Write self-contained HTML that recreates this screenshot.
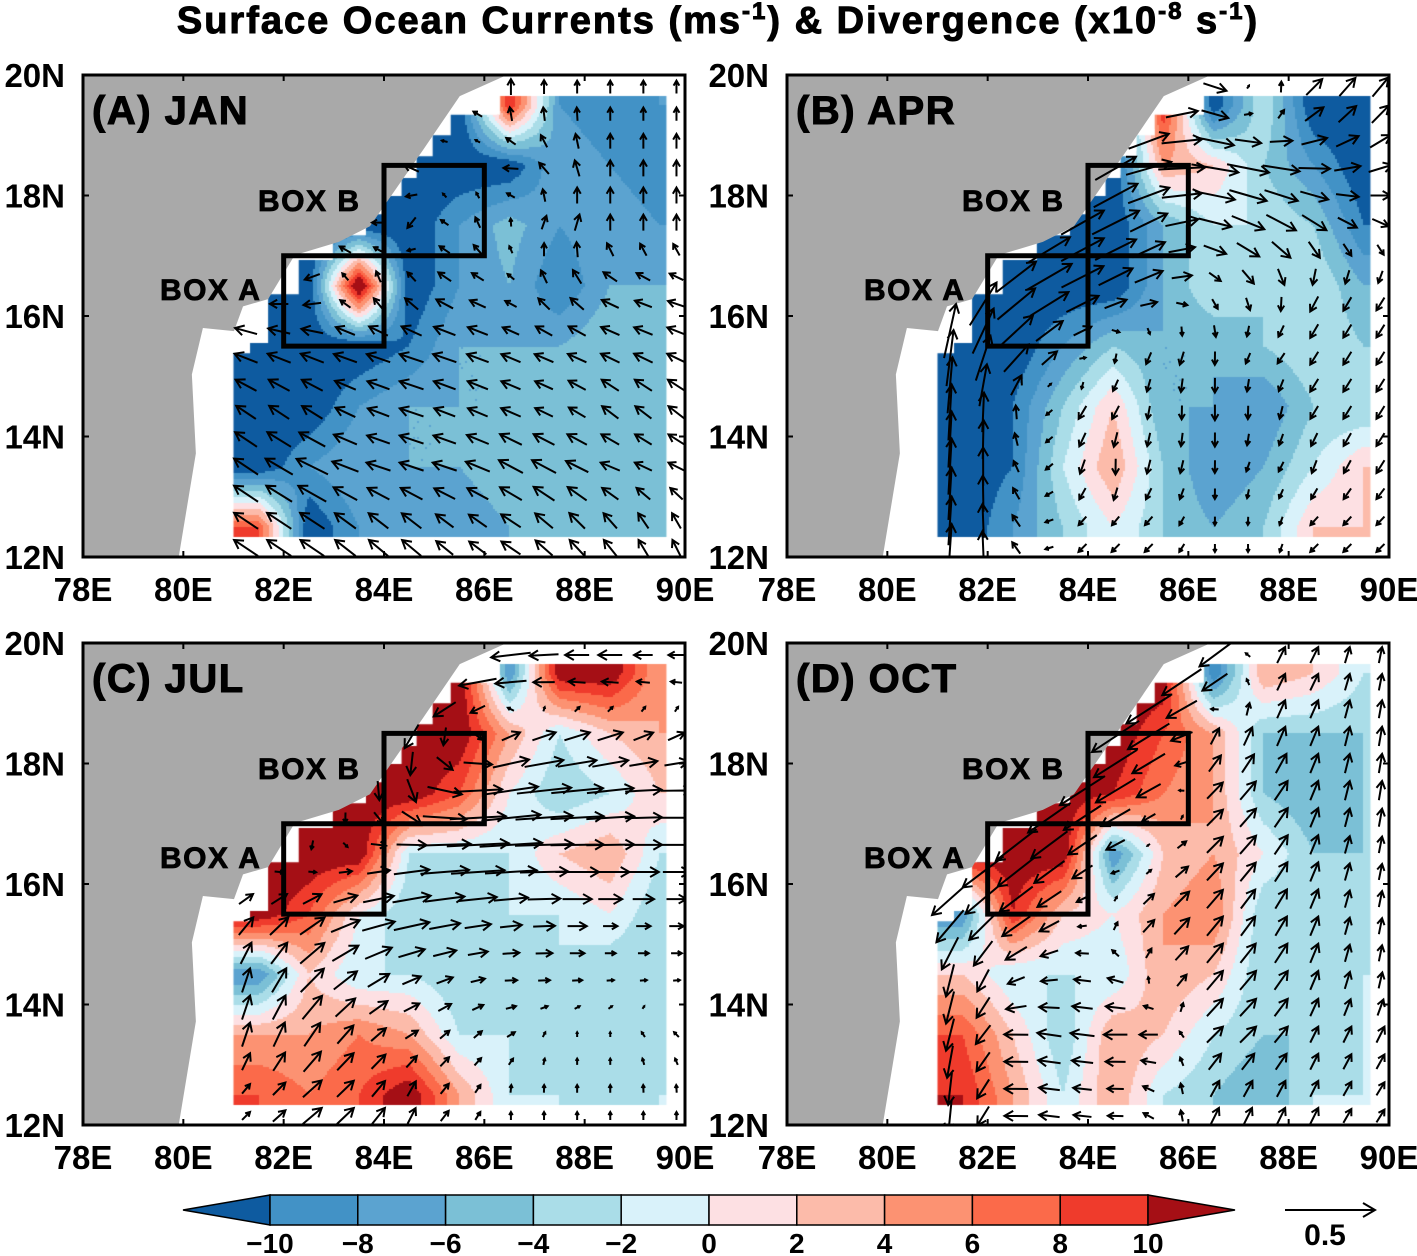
<!DOCTYPE html>
<html><head><meta charset="utf-8">
<style>
body{margin:0;background:#fff;}
#wrap{position:relative;width:1417px;height:1256px;overflow:hidden;font-family:"Liberation Sans",sans-serif;}
canvas{position:absolute;}
svg{position:absolute;left:0;top:0;}
</style></head>
<body>
<div id="wrap">
<canvas id="cA" width="602" height="482" style="left:83px;top:75px"></canvas>
<canvas id="cB" width="602" height="482" style="left:787px;top:75px"></canvas>
<canvas id="cC" width="602" height="482" style="left:83px;top:643px"></canvas>
<canvas id="cD" width="602" height="482" style="left:787px;top:643px"></canvas>
<svg id="ov" width="1417" height="1256">
<defs><clipPath id="pc"><rect x="0" y="0" width="602" height="482"/></clipPath></defs>
<text x="718" y="33" text-anchor="middle" font-size="38" font-weight="bold" letter-spacing="2" stroke="#000" stroke-width="1">Surface Ocean Currents (ms<tspan dy="-14" font-size="24">-1</tspan><tspan dy="14">) &amp; Divergence (x10</tspan><tspan dy="-14" font-size="24">-8</tspan><tspan dy="14"> s</tspan><tspan dy="-14" font-size="24">-1</tspan><tspan dy="14">)</tspan></text>
</svg>
</div>
<script>
// ---- data ----
const levels=[-10,-8,-6,-4,-2,0,2,4,6,8,10];
const colors=["#0e5ba0","#4292c6","#5ba3d0","#7bc0d6","#aadde8","#d9f2fa","#fde0e3","#fcbbaa","#fc9272","#fb6a4a","#ef3b2c","#a50f15"];
const gridLons=[81.5,82.5,83.5,84.5,85.5,86.5,87.5,88.5,89.5];
const gridLats=[19.5,18.5,17.5,16.5,15.5,14.5,13.5,12.5];
const panelTitles=["(A) JAN","(B) APR","(C) JUL","(D) OCT"];
const lonTicks=["78E","80E","82E","84E","86E","88E","90E"];
const latTicks=["12N","14N","16N","18N","20N"];
const divA=[
[-12,-12,-12,-12,-12,10,-8,-10,-8],
[-12,-12,-12,-12,-12,-12,-6,-8,-10],
[-12,-12,-12,-12,-8,-5,-8,-6,-8],
[-12,-12,14,-12,-8,-6,-10,-6,-6],
[-12,-12,-12,-10,-6,-6,-6,-4,-6],
[-12,-12,-8,-6,-6,-6,-4,-6,-6],
[-12,-8,-6,-6,-6,-4,-6,-4,-5],
[8,-12,-8,-6,-8,-6,-5,-6,-6]];
const divB=[
[-12,-12,-12,-12,10,-12,-2,-12,-12],
[-12,-12,-12,-12,4,2,-4,-8,-12],
[-12,-12,-12,-12,-6,-2,-2,-4,-10],
[-12,-12,-12,-12,-6,-2,-4,-2,-6],
[-12,-12,-8,-4,-6,-6,-4,-2,-4],
[-12,-10,-4,2,-6,-6,-8,-4,-4],
[-12,-10,-2,4,-4,-8,-6,-2,2],
[-12,-8,-4,0,-4,-6,-4,2,2]];
const divC=[
[12,12,12,12,12,-8,12,12,4],
[12,12,12,12,12,4,-2,2,4],
[12,12,12,12,8,0,-4,-2,2],
[12,12,12,-2,-2,-2,2,4,-2],
[12,8,0,-4,-4,-2,-2,0,-4],
[-8,2,-2,-2,-4,-4,-2,-4,-4],
[4,4,6,4,-2,-2,-4,-2,-4],
[8,6,8,12,4,-2,-2,-4,-2]];
const divD=[
[12,12,12,12,12,-10,4,2,-2],
[12,12,12,12,8,4,-4,-4,-4],
[12,12,12,10,6,4,-4,-6,-4],
[12,12,12,-8,2,4,0,-4,-4],
[-8,10,2,0,4,6,-4,-4,-4],
[2,-2,-2,-2,4,2,-4,-4,-2],
[8,2,-4,4,2,-2,-4,-4,-2],
[10,4,-2,4,-2,-4,-6,-2,-2]];
const uA=[
[-.1,-.1,-.1,-.1,-.1,0,0,0,0],
[-.1,-.1,-.1,-.1,.05,-.1,-.05,0,0],
[-.1,-.1,-.1,-.05,-.05,0,.05,0,0],
[-.1,-.1,0,-.05,-.1,-.05,-.05,-.1,-.1],
[-.15,-.15,-.15,-.15,-.15,-.12,-.12,-.12,-.12],
[-.12,-.12,-.12,-.15,-.12,-.12,-.1,-.1,-.1],
[-.15,-.2,-.15,-.15,-.15,-.15,-.15,-.12,-.1],
[-.15,-.15,-.12,-.12,-.1,-.12,-.1,-.08,-.05]];
const vA=[
[0,0,0,0,0,.1,.08,.08,.08],
[0,0,0,.05,0,0,.1,.1,.1],
[0,0,.05,-.08,.08,.05,.1,.1,.1],
[0,-.05,.08,.08,.05,.03,.1,.05,.03],
[.05,.05,.05,.05,.05,.05,.05,.05,.05],
[.08,.08,.05,.05,.05,.05,.05,.08,.08],
[.1,.1,.05,.05,.05,.08,.08,.05,.05],
[.1,.1,.1,.1,.08,.08,.1,.1,.1]];
const uB=[
[.2,.2,.2,.2,.2,.15,-.05,.1,.1],
[.2,.2,.2,.25,.3,.3,.25,.2,.15],
[.2,.2,.25,.3,.2,.2,.2,.15,.1],
[.15,.25,.3,.2,.15,.05,.05,-.05,-.05],
[.05,.2,.1,0,-.05,0,-.05,-.05,-.05],
[.02,0,-.05,-.05,0,0,0,-.05,-.05],
[.02,-.03,-.05,0,-.03,0,-.03,-.03,-.05],
[.02,-.05,-.05,-.05,-.05,0,0,-.05,-.05]];
const vB=[
[.15,.15,.15,.15,.1,-.05,.05,.1,.12],
[.15,.15,.15,.15,.05,-.05,-.05,0,.05],
[.2,.15,.15,.15,.1,-.05,-.1,-.1,-.05],
[.3,.2,.15,.1,.05,-.05,-.1,-.1,-.08],
[.35,.2,.08,-.05,-.08,-.08,-.05,-.08,-.08],
[.35,.1,-.08,-.08,-.08,-.1,-.08,-.08,-.08],
[.35,.08,-.08,-.1,-.08,-.08,-.05,-.08,-.08],
[.3,.08,-.05,-.05,-.05,-.05,-.05,-.05,-.05]];
const uC=[
[-.3,-.3,-.3,-.3,-.3,-.25,-.15,-.15,-.1],
[-.2,-.2,-.2,-.1,0,.1,.15,.15,.1],
[-.1,-.1,0,.05,.3,.35,.35,.3,.2],
[.05,0,.05,.2,.4,.4,.35,.3,.2],
[.1,.15,.2,.25,.2,.15,.15,.1,.1],
[.05,.15,.15,.12,.1,.08,.08,.05,.05],
[.05,.1,.1,.08,.05,.05,0,0,-.03],
[.05,.12,.1,.05,.05,0,0,0,0]];
const vC=[
[-.05,-.05,-.05,-.05,-.05,-.03,0,0,0],
[-.1,-.1,-.1,-.15,-.1,.05,.05,.05,.05],
[-.1,-.1,-.1,-.15,0,.05,.03,.03,0],
[-.05,-.05,0,.02,.02,.02,0,0,0],
[.1,.1,.05,.05,.03,.02,0,0,0],
[.15,.15,.1,.05,.03,0,0,0,0],
[.15,.15,.1,.05,.05,.03,.03,.03,.03],
[.05,.1,.1,.1,.05,.05,.05,.05,.05]];
const uD=[
[-.35,-.35,-.35,-.3,-.3,-.2,.05,.05,.02],
[-.3,-.3,-.3,-.3,-.25,.05,.05,.05,.02],
[-.3,-.3,-.3,-.25,-.1,.1,.1,.05,.02],
[-.3,-.25,-.2,-.1,.05,.1,.1,.05,.02],
[-.2,-.2,-.1,.05,.1,.1,.08,.05,.02],
[-.05,-.1,-.1,-.1,.05,.1,.1,.05,.02],
[-.05,-.15,-.15,-.15,-.1,.1,.1,.05,.05],
[-.02,-.15,-.12,-.1,-.05,.05,.05,.05,.05]];
const vD=[
[-.25,-.25,-.25,-.2,-.2,-.15,.1,.1,.1],
[-.2,-.2,-.2,-.2,-.15,.1,.12,.12,.12],
[-.2,-.2,-.2,-.15,-.05,.1,.12,.12,.12],
[-.2,-.2,-.15,-.05,.02,.1,.12,.12,.1],
[-.2,-.15,-.05,.05,.1,.12,.12,.12,.1],
[-.2,-.05,0,.03,.05,.12,.12,.12,.1],
[-.2,0,.03,0,0,.1,.1,.1,.1],
[-.2,0,.02,0,.05,.1,.1,.1,.08]];
const coastLon=[79.91,80.25,80.17,80.39,81.01,81.19,81.69,82.22,83.10,83.72,84.79,85.51,86.45];
const coastLat=[12.01,13.72,15.03,15.80,15.75,16.16,16.28,17.01,17.23,17.49,18.77,19.65,20];
const maskLon=[81,81,81.33,81.69,82.2,82.3,82.98,83.64,84.04,84.35,84.65,84.97,85.33,86.31,86.67];
const maskLat=[12.33,15,15.38,15.55,16.36,16.36,16.93,17.34,17.69,17.99,18.29,18.65,19.0,19.34,19.65];
const vecKeySpeed=0.5;

// ---- geometry ----
const PW=602,PH=482;
const panels=[{x:83,y:75,div:divA,u:uA,v:vA,c:"cA"},{x:787,y:75,div:divB,u:uB,v:vB,c:"cB"},
{x:83,y:643,div:divC,u:uC,v:vC,c:"cC"},{x:787,y:643,div:divD,u:uD,v:vD,c:"cD"}];
const xs=lon=>(lon-78)*PW/12, ys=lat=>(20-lat)*PH/8;
function colorOf(val){let i=0;while(i<levels.length&&val>=levels[i])i++;return colors[i];}
function interp(g,lon,lat){
 let fx=Math.max(0,Math.min(8,lon-81.5)), fy=Math.max(0,Math.min(7,19.5-lat));
 let i=Math.min(7,Math.floor(fx)), j=Math.min(6,Math.floor(fy)); let a=fx-i,b=fy-j;
 return g[j][i]*(1-a)*(1-b)+g[j][i+1]*a*(1-b)+g[j+1][i]*(1-a)*b+g[j+1][i+1]*a*b;
}
function maskPts(){
 const pts=[[maskLon[0],maskLat[0]]];
 for(let k=1;k<maskLon.length;k++){pts.push([maskLon[k-1],maskLat[k]]);pts.push([maskLon[k],maskLat[k]]);}
 pts.push([89.63,19.65]);pts.push([89.63,12.33]);return pts;
}
function inPoly(pts,x,y){let c=false;for(let i=0,j=pts.length-1;i<pts.length;j=i++){const [xi,yi]=pts[i],[xj,yj]=pts[j];if(((yi>y)!=(yj>y))&&(x<(xj-xi)*(y-yi)/(yj-yi)+xi))c=!c;}return c;}
const NS="http://www.w3.org/2000/svg";
const ov=document.getElementById('ov');
function mk(tag,attrs,parent){const e=document.createElementNS(NS,tag);for(const k in attrs)e.setAttribute(k,attrs[k]);(parent||ov).appendChild(e);return e;}

const mp=maskPts();
const landPts=coastLon.map((l,i)=>[l,coastLat[i]]).concat([[78,20],[78,12]]);
panels.forEach((p,pi)=>{
 const ctx=document.getElementById(p.c).getContext('2d');
 ctx.beginPath();mp.forEach(([lo,la],k)=>{k?ctx.lineTo(xs(lo),ys(la)):ctx.moveTo(xs(lo),ys(la));});ctx.closePath();ctx.clip();
 const st=2;
 for(let py=0;py<PH;py+=st)for(let px=0;px<PW;px+=st){
  const lon=78+(px+1)*12/PW, lat=20-(py+1)*8/PH;
  if(lon<80.9||lat<12.2||lat>19.8)continue;
  ctx.fillStyle=colorOf(interp(p.div,lon,lat));ctx.fillRect(px,py,st,st);
 }
 const g=mk('g',{transform:`translate(${p.x},${p.y})`});
 
 
 const land=mk('polygon',{points:landPts.map(([lo,la])=>xs(lo)+','+ys(la)).join(' '),fill:'#a9a9a9'},g);
 
 
 const ag=mk('g',{stroke:'#000','stroke-width':2,fill:'none','clip-path':'url(#pc)'},g);
 
 
 const S=160;
 for(let lat=12.15;lat<19.8;lat+=0.45)for(let lon=81.25;lon<90;lon+=0.66){
  if(inPoly(landPts,lon,lat))continue;
  const u=interp(p.u,lon,lat), v=interp(p.v,lon,lat);
  const cx=xs(lon),cy=ys(lat),dx=u*S,dy=-v*S,len=Math.hypot(dx,dy);
  if(len<3)continue;
  const x1=cx-dx/2,y1=cy-dy/2,x2=cx+dx/2,y2=cy+dy/2,ux=dx/len,uy=dy/len,h=Math.min(10,len*0.45);
  const a=mk('path',{d:`M${x1},${y1}L${x2},${y2}M${x2-h*(ux*0.87-uy*0.5)},${y2-h*(uy*0.87+ux*0.5)}L${x2},${y2}L${x2-h*(ux*0.87+uy*0.5)},${y2-h*(uy*0.87-ux*0.5)}`},ag);
  
  
 }
 const bA=mk('rect',{x:xs(82),y:ys(17),width:xs(84)-xs(82),height:ys(15.5)-ys(17),fill:'none',stroke:'#000','stroke-width':5},g);
 
 
 const bB=mk('rect',{x:xs(84),y:ys(18.5),width:xs(86)-xs(84),height:ys(17)-ys(18.5),fill:'none',stroke:'#000','stroke-width':5},g);
 
 
 const tB=mk('text',{x:175,y:136,'font-size':30,'font-weight':'bold','letter-spacing':1.5,stroke:'#000','stroke-width':0.8},g);tB.textContent='BOX B';
 
 
 const tA=mk('text',{x:77,y:225,'font-size':30,'font-weight':'bold','letter-spacing':1.5,stroke:'#000','stroke-width':0.8},g);tA.textContent='BOX A';
 
 
 const tt=mk('text',{x:9,y:49,'font-size':40,'font-weight':'bold','letter-spacing':1.5,stroke:'#000','stroke-width':1},g);tt.textContent=panelTitles[pi];
 
 
 const fr=mk('rect',{x:0,y:0,width:PW,height:PH,fill:'none',stroke:'#000','stroke-width':3},g);
 
 
 lonTicks.forEach((t,k)=>{const x=xs(78+2*k);
  mk('line',{x1:x,y1:PH,x2:x,y2:PH-6,stroke:'#000','stroke-width':2},g);mk('line',{x1:x,y1:0,x2:x,y2:6,stroke:'#000','stroke-width':2},g);
  const e=mk('text',{x:x,y:PH+44,'font-size':33,'font-weight':'bold','text-anchor':'middle'},g);e.textContent=t;
  
  });
 latTicks.forEach((t,k)=>{const y=ys(12+2*k);
  mk('line',{x1:0,y1:y,x2:6,y2:y,stroke:'#000','stroke-width':2},g);mk('line',{x1:PW,y1:y,x2:PW-6,y2:y,stroke:'#000','stroke-width':2},g);
  const e=mk('text',{x:-18,y:y+12,'font-size':33,'font-weight':'bold','text-anchor':'end'},g);e.textContent=t;
  
  });
});
const cb=mk('g',{});


const cbX0=270,cbX1=1148,cbY=1195,cbH=30,segW=(cbX1-cbX0)/10;
const lt=mk('polygon',{points:`${cbX0},${cbY} 183,${cbY+cbH/2} ${cbX0},${cbY+cbH}`,fill:colors[0],stroke:'#000','stroke-width':1.5},cb);


for(let k=0;k<10;k++){const r=mk('rect',{x:cbX0+k*segW,y:cbY,width:segW,height:cbH,fill:colors[k+1],stroke:'#000','stroke-width':1.5},cb);
 
 }
const rt=mk('polygon',{points:`${cbX1},${cbY} 1235,${cbY+cbH/2} ${cbX1},${cbY+cbH}`,fill:colors[11],stroke:'#000','stroke-width':1.5},cb);


levels.forEach((l,k)=>{const e=mk('text',{x:cbX0+k*segW,y:1253,'font-size':28,'font-weight':'bold','text-anchor':'middle'},cb);e.textContent=l<0?'\u2212'+(-l):String(l);
 
 });
const vk=mk('g',{stroke:'#000','stroke-width':2,fill:'none'});


const kx=1285,ky=1210,kl=vecKeySpeed*180;
mk('path',{d:`M${kx},${ky}L${kx+kl},${ky}M${kx+kl-12},${ky-7}L${kx+kl},${ky}L${kx+kl-12},${ky+7}`},vk);
const kt=mk('text',{x:1325,y:1245,'font-size':30,'font-weight':'bold','text-anchor':'middle',fill:'#000',stroke:'none'},vk);kt.textContent='0.5';


</script>
</body></html>
